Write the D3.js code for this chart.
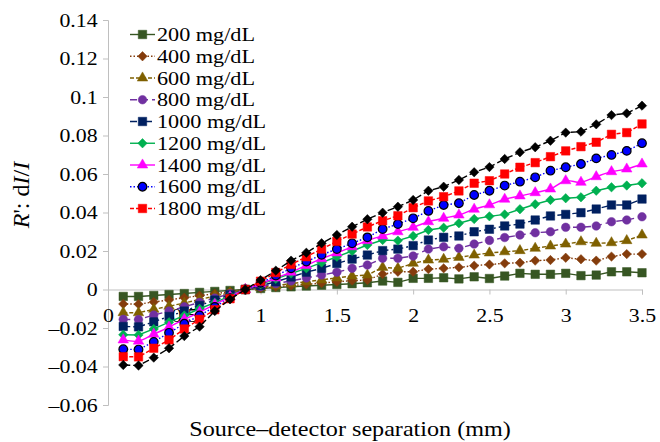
<!DOCTYPE html>
<html>
<head>
<meta charset="utf-8">
<script src="https://cdn.jsdelivr.net/npm/d3@7"></script>
<style>
  body { margin: 0; background: #fff; }
  text { font-family: "Liberation Serif", "Times New Roman", serif; fill: #000; }
</style>
</head>
<body>
<svg id="chart" width="660" height="442"></svg>
<script>
// separation values (mm)
const separations = [0.1,0.2,0.3,0.4,0.5,0.6,0.7,0.8,0.9,1.0,1.1,1.2,1.3,1.4,1.5,1.6,1.7,1.8,1.9,2.0,
  2.1,2.2,2.3,2.4,2.5,2.6,2.7,2.8,2.9,3.0,3.1,3.2,3.3,3.4,3.5];

const s200 = [-0.0036,-0.0036,-0.0031,-0.0026,-0.0021,-0.0015,-0.0010,-0.0005,0,
  0.0005,0.0010,0.0014,0.0018,0.0022,0.0026,0.0030,0.0035,
  0.0044,0.0037,0.0058,0.0058,0.0061,0.0055,0.0066,0.0057,
  0.0070,0.0084,0.0079,0.0079,0.0084,0.0072,0.0075,0.0092,0.0092,0.0087];
const s400 = [-0.0075,-0.0076,-0.0065,-0.0054,-0.0043,-0.0032,-0.0022,-0.0011,0,
  0.0007,0.0014,0.0020,0.0027,0.0033,0.0040,0.0046,0.0049,
  0.0080,0.0092,0.0092,0.0106,0.0110,0.0115,0.0124,0.0130,
  0.0136,0.0139,0.0150,0.0153,0.0165,0.0157,0.0150,0.0171,0.0184,0.0184];
const s600 = [-0.0120,-0.0121,-0.0103,-0.0087,-0.0070,-0.0052,-0.0034,-0.0017,0,
  0.0010,0.0020,0.0030,0.0040,0.0050,0.0060,0.0070,0.0075,
  0.0115,0.0110,0.0136,0.0153,0.0157,0.0167,0.0179,0.0190,
  0.0196,0.0202,0.0214,0.0226,0.0236,0.0248,0.0240,0.0243,0.0254,0.0283];
const s800 = [-0.0155,-0.0156,-0.0133,-0.0112,-0.0090,-0.0067,-0.0045,-0.0022,0,
  0.0015,0.0030,0.0045,0.0060,0.0075,0.0090,0.0110,0.0127,
  0.0162,0.0162,0.0174,0.0210,0.0222,0.0214,0.0236,0.0255,
  0.0270,0.0283,0.0295,0.0300,0.0323,0.0323,0.0330,0.0352,0.0361,0.0378];
const s1000 = [-0.0192,-0.0194,-0.0168,-0.0140,-0.0112,-0.0083,-0.0055,-0.0028,0,
  0.0020,0.0040,0.0065,0.0090,0.0110,0.0135,0.0158,0.0179,
  0.0202,0.0210,0.0228,0.0257,0.0271,0.0278,0.0300,0.0313,
  0.0330,0.0340,0.0361,0.0382,0.0390,0.0399,0.0418,0.0439,0.0439,0.0470];
const s1200 = [-0.0235,-0.0236,-0.0205,-0.0170,-0.0135,-0.0100,-0.0068,-0.0033,0,
  0.0027,0.0055,0.0083,0.0110,0.0140,0.0170,0.0200,0.0231,
  0.0257,0.0254,0.0278,0.0309,0.0321,0.0344,0.0366,0.0380,
  0.0390,0.0417,0.0443,0.0465,0.0474,0.0479,0.0513,0.0531,0.0540,0.0552];
const s1400 = [-0.0262,-0.0268,-0.0232,-0.0195,-0.0155,-0.0118,-0.0078,-0.0038,0,
  0.0030,0.0060,0.0090,0.0125,0.0160,0.0190,0.0222,0.0254,
  0.0278,0.0300,0.0323,0.0352,0.0370,0.0387,0.0417,0.0440,
  0.0469,0.0486,0.0503,0.0522,0.0565,0.0557,0.0586,0.0612,0.0626,0.0652];
const s1600 = [-0.0310,-0.0312,-0.0272,-0.0225,-0.0178,-0.0135,-0.0090,-0.0045,0,
  0.0035,0.0072,0.0110,0.0145,0.0180,0.0210,0.0240,0.0271,
  0.0314,0.0340,0.0370,0.0408,0.0439,0.0448,0.0491,0.0513,
  0.0540,0.0560,0.0583,0.0617,0.0635,0.0652,0.0681,0.0699,0.0720,0.0760];
const s1800 = [-0.0349,-0.0350,-0.0305,-0.0262,-0.0205,-0.0155,-0.0105,-0.0048,0,
  0.0043,0.0088,0.0130,0.0170,0.0210,0.0250,0.0288,0.0325,
  0.0357,0.0383,0.0425,0.0460,0.0482,0.0512,0.0552,0.0565,
  0.0600,0.0635,0.0659,0.0690,0.0720,0.0742,0.0765,0.0806,0.0815,0.0860];
const s2000 = [-0.0392,-0.0395,-0.0354,-0.0305,-0.0242,-0.0193,-0.0112,-0.0051,0,
  0.0049,0.0098,0.0150,0.0191,0.0240,0.0283,0.0326,0.0365,
  0.0399,0.0430,0.0465,0.0513,0.0534,0.0569,0.0609,0.0636,
  0.0678,0.0713,0.0739,0.0773,0.0815,0.0820,0.0858,0.0906,0.0915,0.0955];

const seriesNames = ["200 mg/dL","400 mg/dL","600 mg/dL","800 mg/dL","1000 mg/dL",
  "1200 mg/dL","1400 mg/dL","1600 mg/dL","1800 mg/dL","2000 mg/dL"];
const seriesValues = [s200, s400, s600, s800, s1000, s1200, s1400, s1600, s1800, s2000];

const xTicks = [0, 0.5, 1, 1.5, 2, 2.5, 3, 3.5];
const xTickLabels = ["0", "0.5", "1", "1.5", "2", "2.5", "3", "3.5"];
const yTicks = [-0.06, -0.04, -0.02, 0, 0.02, 0.04, 0.06, 0.08, 0.1, 0.12, 0.14];
const yTickLabels = ["\u20130.06", "\u20130.04", "\u20130.02", "0", "0.02", "0.04", "0.06", "0.08", "0.1", "0.12", "0.14"];

// styling per series (colour, marker, dash)
const styles = [
  { color: "#375623", marker: "square",   dash: null },
  { color: "#843c0c", marker: "diamond",  dash: "1.5,2" },
  { color: "#7f6000", marker: "triangle", dash: "4,2" },
  { color: "#7030a0", marker: "circle",   dash: "7,4" },
  { color: "#002060", marker: "square",   dash: "7,3,2,3" },
  { color: "#00b050", marker: "diamond",  dash: null },
  { color: "#ff00ff", marker: "triangle", dash: null, smooth: true },
  { color: "#0000ff", marker: "circle",   dash: "1.5,2", outline: "#000" },
  { color: "#ff0000", marker: "square",   dash: "4,2" },
  { color: "#000000", marker: "diamond",  dash: "7,3" }
];

const svg = d3.select("#chart");
const axisColor = "#bfbfbf";
const stretch = "scale(1.15,1)";

const x = d3.scaleLinear().domain([0, 3.5]).range([108, 642]);
const y = d3.scaleLinear().domain([-0.06, 0.14]).range([405, 20]);

// y axis
const yAxis = svg.append("g")
  .attr("transform", `translate(${x(0)},0)`)
  .call(d3.axisLeft(y).tickValues(yTicks).tickSize(5).tickPadding(4)
    .tickFormat((d, i) => yTickLabels[i]));
yAxis.select(".domain").attr("stroke", axisColor);
yAxis.selectAll(".tick line").attr("stroke", axisColor);
yAxis.selectAll(".tick text").attr("font-size", 19).attr("font-family", null)
  .attr("transform", stretch);

// x axis at y = 0
const xAxis = svg.append("g")
  .attr("transform", `translate(0,${y(0)})`)
  .call(d3.axisBottom(x).tickValues(xTicks).tickSize(5).tickPadding(14)
    .tickFormat((d, i) => xTickLabels[i]));
xAxis.select(".domain").attr("stroke", axisColor);
xAxis.selectAll(".tick line").attr("stroke", axisColor);
xAxis.selectAll(".tick text").attr("font-size", 19).attr("font-family", null)
  .attr("transform", stretch);

function markerPath(type) {
  if (type === "square") return d3.symbol(d3.symbolSquare, 72)();
  if (type === "diamond") return d3.symbol(d3.symbolSquare, 44)();
  if (type === "triangle") return d3.symbol(d3.symbolTriangle, 48)();
  return d3.symbol(d3.symbolCircle, 58)();
}

function drawMarker(g, st, px, py) {
  g.append("path")
    .attr("d", markerPath(st.marker))
    .attr("transform", `translate(${px},${py})` + (st.marker === "diamond" ? " rotate(45)" : ""))
    .attr("fill", st.color)
    .attr("stroke", st.outline || st.color)
    .attr("stroke-width", st.outline ? 1.2 : 0.5);
}

// series
seriesValues.forEach((vals, i) => {
  const st = styles[i];
  const pts = separations.map((s, j) => [s, vals[j]]);
  const g = svg.append("g");
  const line = d3.line().x(d => x(d[0])).y(d => y(d[1]));
  if (st.smooth) line.curve(d3.curveCatmullRom.alpha(0.5));
  g.append("path")
    .datum(pts)
    .attr("d", line)
    .attr("fill", "none")
    .attr("stroke", st.color)
    .attr("stroke-width", 1.4)
    .attr("stroke-dasharray", st.dash);
  pts.forEach(d => drawMarker(g, st, x(d[0]), y(d[1])));
});

// legend (first nine series)
const legend = svg.append("g");
seriesNames.slice(0, 9).forEach((name, i) => {
  const st = styles[i];
  const cy = 34.5 + i * 21.75;
  legend.append("line")
    .attr("x1", 130).attr("x2", 155).attr("y1", cy).attr("y2", cy)
    .attr("stroke", st.color).attr("stroke-width", 1.4)
    .attr("stroke-dasharray", st.dash);
  drawMarker(legend, st, 142.5, cy);
  legend.append("text")
    .attr("transform", `translate(157,${cy + 6.5}) ${stretch}`)
    .attr("font-size", 19.3)
    .text(name);
});

// axis titles
svg.append("text")
  .attr("transform", `translate(350,436) ${stretch}`)
  .attr("text-anchor", "middle")
  .attr("font-size", 21)
  .text("Source\u2013detector separation (mm)");

const yt = svg.append("text")
  .attr("transform", "translate(29,195) rotate(-90)")
  .attr("text-anchor", "middle")
  .attr("font-size", 24);
yt.append("tspan").attr("font-style", "italic").text("R");
yt.append("tspan").text("': d");
yt.append("tspan").attr("font-style", "italic").text("I");
yt.append("tspan").text("/");
yt.append("tspan").attr("font-style", "italic").text("I");
</script>
</body>
</html>
